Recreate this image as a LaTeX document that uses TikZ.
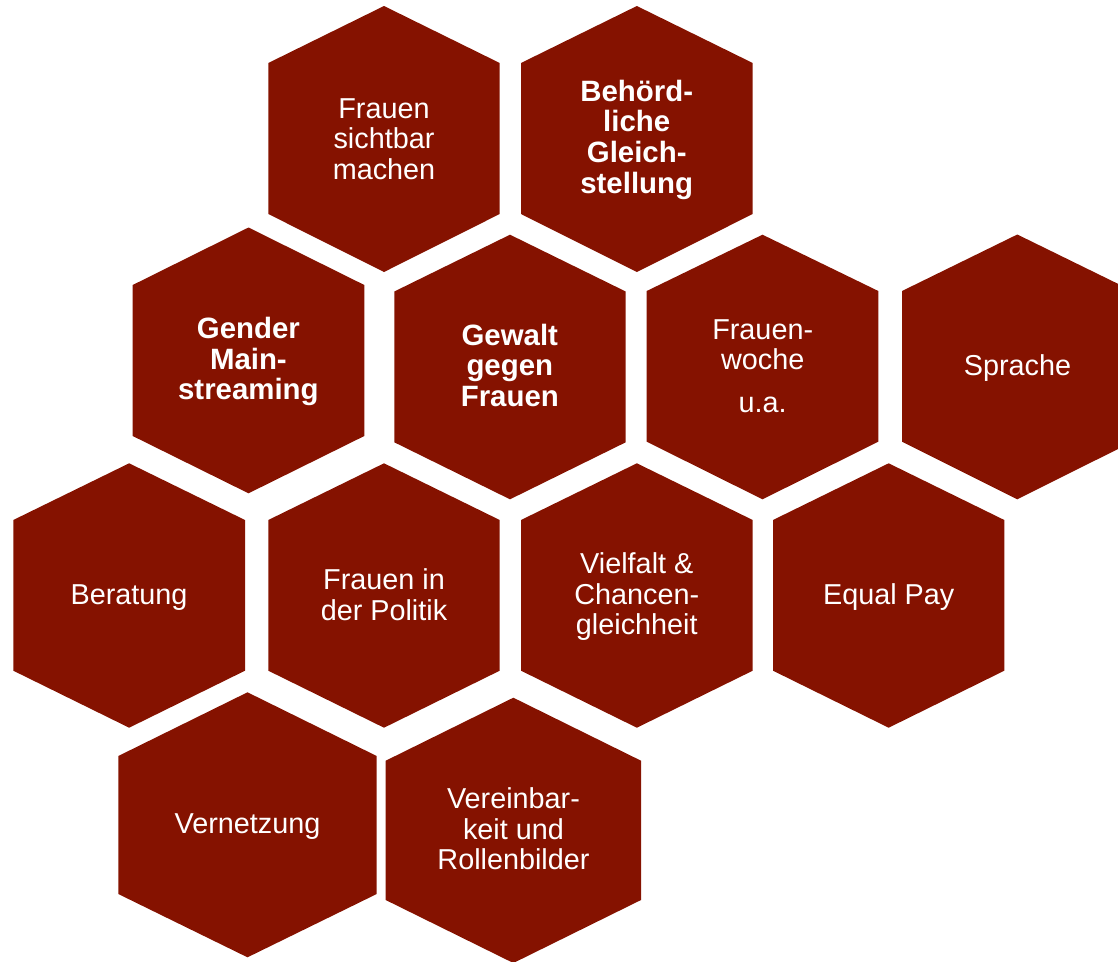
\documentclass[tikz,border=0pt]{standalone}
\usepackage{fontspec}
\setmainfont{Liberation Sans}
\definecolor{hexred}{RGB}{133,18,0}

% filled cell: left x, right x, top tip y, upper side y, lower side y, bottom tip y
\newcommand\hexcell[6]{%
  \fill[hexfill] ({(#1+#2)/2},#3) -- (#2,#4) -- (#2,#5) -- ({(#1+#2)/2},#6)
    -- (#1,#5) -- (#1,#4) -- cycle;}
\newcommand\celltext[1]{\parbox[t]{220pt}{\centering #1}}

\tikzset{
  hexfill/.style={fill=hexred},
  hextext/.style={anchor=base, inner sep=0pt, text=white,
    font=\fontsize{28.8pt}{30.7pt}\selectfont},
  hexbold/.style={hextext, font=\fontsize{29.4pt}{30.7pt}\selectfont\bfseries}
}

\begin{document}
\begin{tikzpicture}[x=1pt,y=-1pt]
\useasboundingbox (0,0) rectangle (1118,961);
\clip (0,0) rectangle (1118,961);

% cells, row by row
\hexcell{268.3}{499.7}{6}{63}{214}{272}
\hexcell{521}{752.7}{6}{63}{214}{272}

\hexcell{132.7}{364.3}{227.5}{285}{436}{493.3}
\hexcell{394.3}{625.7}{234.7}{291.5}{442.3}{499.3}
\hexcell{646.7}{878.3}{234.7}{291}{441.7}{499.3}
\hexcell{902}{1132.6}{234.5}{291}{441.7}{499.3}

\hexcell{13.3}{245}{463.3}{520}{670.7}{727.7}
\hexcell{268.3}{499.7}{463.3}{520}{670.7}{727.7}
\hexcell{521}{752.7}{463.3}{520}{670.7}{727.7}
\hexcell{773}{1004.3}{463.3}{520}{670.7}{727.7}

\hexcell{118.3}{376.7}{692.3}{756}{894}{957.3}
\hexcell{385.7}{641}{697.7}{760.7}{900}{963}

% labels
\node[hextext] (sichtbar) at (384,118) {\celltext{Frauen\\sichtbar\\machen}};
\node[hexbold] (behoerde) at (636.7,101) {\celltext{Behörd-\\liche\\Gleich-\\stellung}};

\node[hexbold] (gender) at (248.4,338.3) {\celltext{Gender\\Main-\\streaming}};
\node[hexbold] (gewalt) at (509.8,345) {\celltext{Gewalt\\gegen\\Frauen}};
\node[hextext] (woche) at (762.7,339) {\celltext{Frauen-\\woche\\[12pt]u.a.}};
\node[hextext] (sprache) at (1017.5,375) {\celltext{Sprache}};

\node[hextext] (beratung) at (129,604.3) {\celltext{Beratung}};
\node[hextext] (politik) at (384,589.3) {\celltext{Frauen in\\der Politik}};
\node[hextext] (vielfalt) at (636.8,573.3) {\celltext{Vielfalt \&\\Chancen-\\gleichheit}};
\node[hextext] (equal) at (888.7,604.3) {\celltext{Equal Pay}};

\node[hextext] (netz) at (247.5,833.3) {\celltext{Vernetzung}};
\node[hextext] (verein) at (513.5,808.3) {\celltext{Vereinbar-\\keit und\\Rollenbilder}};
\end{tikzpicture}
\end{document}
